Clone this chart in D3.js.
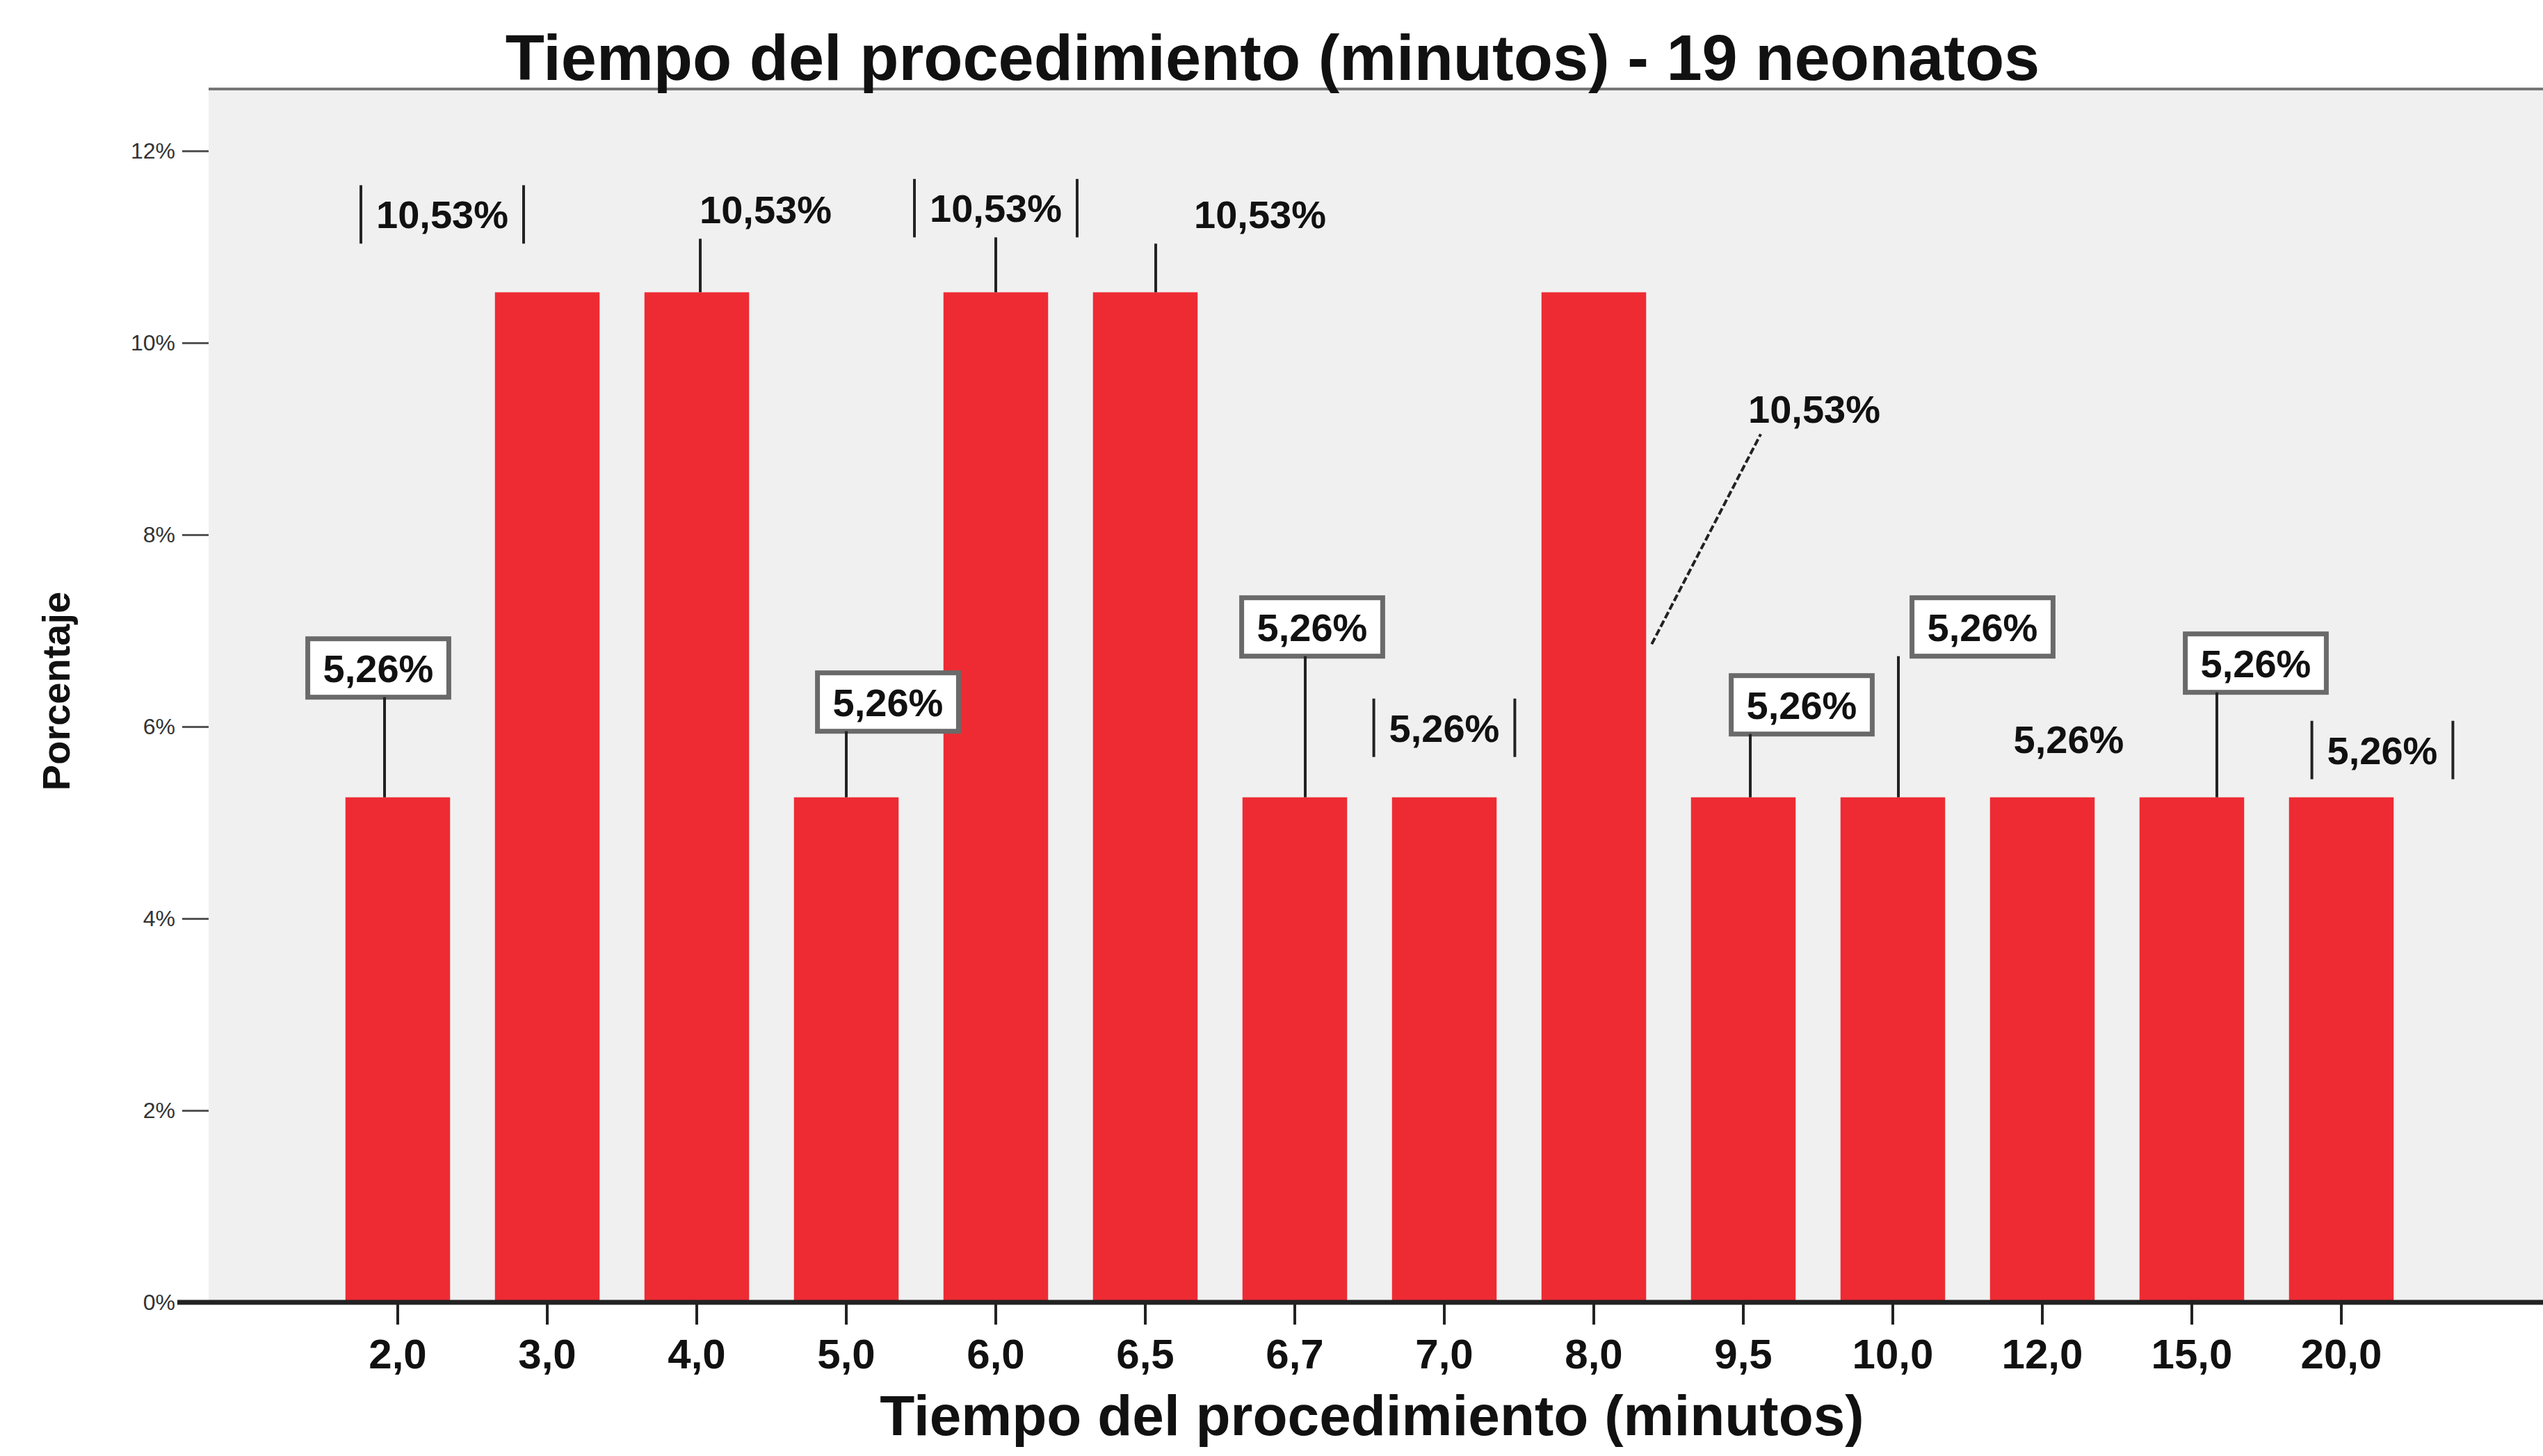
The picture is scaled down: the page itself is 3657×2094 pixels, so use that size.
<!DOCTYPE html>
<html lang="es">
<head>
<meta charset="UTF-8">
<title>Tiempo del procedimiento</title>
<script src="https://cdn.jsdelivr.net/npm/d3@7"></script>
<style>
  html, body { margin: 0; padding: 0; background: #fff; }
  svg { display: block; font-family: "Liberation Sans", Arial, sans-serif; }
  .bar { fill: #ee2b33; }
  .plot-bg { fill: #f0f0f0; }
  .lbl { font-size: 56px; font-weight: bold; fill: #111; }
  .leader { stroke: #222; stroke-width: 4; }
</style>
</head>
<body>
<div id="root"></div>
<script>
// datos: tiempo del procedimiento (minutos), recuento de neonatos
const categorias = ["2,0", "3,0", "4,0", "5,0", "6,0", "6,5", "6,7", "7,0", "8,0", "9,5", "10,0", "12,0", "15,0", "20,0"]
const recuentos = [1, 2, 2, 1, 2, 2, 1, 1, 2, 1, 1, 1, 1, 1]
const yTicks = [0, 2, 4, 6, 8, 10, 12]
const titulo = "Tiempo del procedimiento (minutos) - 19 neonatos"
const tituloX = "Tiempo del procedimiento (minutos)"
const tituloY = "Porcentaje"

// posicion de cada etiqueta respecto a la parte superior de su barra
// [dx, dy, estilo, dx de la linea guia (null = sin linea)]
const labelLayout = [
  [-28, -186, "box", -19], [-151, -112, "bracket", null], [99, -119, "plain", 5],
  [60, -137, "box", 0], [0, -121, "bracket", 0], [165, -112, "plain", 15],
  [25, -245, "box", 15], [0, -100, "bracket", null], [317, 168, "plain", "diag"],
  [84, -133, "box", 10], [129, -245, "box", 8], [38, -84, "plain", null],
  [92, -193, "box", 36], [59, -68, "bracket", null]
]

const total = d3.sum(recuentos)
const porcentajes = recuentos.map(c => c / total * 100)
const fmt = v => d3.format(".2f")(v).replace(".", ",") + "%"

const width = 3657, height = 2094
const plot = { left: 300, top: 128, right: 3657, bottom: 1873 }

const svg = d3.select("#root").append("svg")
  .attr("width", width).attr("height", height)

// fondo del area de grafico
svg.append("rect").attr("class", "plot-bg")
  .attr("x", plot.left).attr("y", plot.top)
  .attr("width", plot.right - plot.left).attr("height", plot.bottom - plot.top)
svg.append("line")
  .attr("x1", plot.left).attr("x2", plot.right)
  .attr("y1", plot.top).attr("y2", plot.top)
  .attr("stroke", "#777").attr("stroke-width", 4)

const xScale = d3.scaleBand().domain(categorias)
  .range([464.5, 3474.5]).paddingInner(0.3).paddingOuter(0.15)
const yScale = d3.scaleLinear().domain([0, 12]).range([plot.bottom, 217])

// eje y
const yAxis = d3.axisLeft(yScale).tickValues(yTicks)
  .tickSize(38).tickPadding(10).tickFormat(d => d + "%")
const gy = svg.append("g").attr("transform", `translate(${plot.left},0)`).call(yAxis)
gy.select(".domain").remove()
gy.selectAll(".tick line").attr("stroke", "#555").attr("stroke-width", 3)
gy.selectAll(".tick text").attr("font-size", 32).attr("fill", "#333")
  .attr("font-family", "Liberation Sans, Arial, sans-serif")

// barras
svg.append("g").selectAll("rect")
  .data(porcentajes).enter().append("rect")
  .attr("class", "bar")
  .attr("x", (d, i) => xScale(categorias[i]))
  .attr("y", d => yScale(d))
  .attr("width", xScale.bandwidth())
  .attr("height", d => plot.bottom - yScale(d))

// eje x
const xAxis = d3.axisBottom(xScale).tickSize(32).tickPadding(20)
const gx = svg.append("g").attr("transform", `translate(0,${plot.bottom})`).call(xAxis)
gx.select(".domain").remove()
gx.selectAll(".tick line").attr("stroke", "#222").attr("stroke-width", 4)
gx.selectAll(".tick text").attr("font-size", 60).attr("font-weight", "bold").attr("fill", "#111")
  .attr("font-family", "Liberation Sans, Arial, sans-serif")
svg.append("line")
  .attr("x1", 255).attr("x2", plot.right)
  .attr("y1", plot.bottom).attr("y2", plot.bottom)
  .attr("stroke", "#222").attr("stroke-width", 7)

// etiquetas de porcentaje
const gl = svg.append("g")
porcentajes.forEach((p, i) => {
  const [dx, dy, estilo, ldx] = labelLayout[i]
  const cxBar = xScale(categorias[i]) + xScale.bandwidth() / 2
  const top = yScale(p)
  const cx = cxBar + dx, cy = top + dy
  const t = gl.append("text").attr("class", "lbl")
    .attr("x", cx).attr("y", cy + 20).attr("text-anchor", "middle").text(fmt(p))
  const w = t.node().getComputedTextLength() + 44, h = 84
  if (estilo === "box") {
    gl.insert("rect", "text").attr("x", cx - w / 2).attr("y", cy - h / 2)
      .attr("width", w).attr("height", h)
      .attr("fill", "#fff").attr("stroke", "#6a6a6a").attr("stroke-width", 7)
  } else if (estilo === "bracket") {
    [-1, 1].forEach(s => gl.append("line").attr("class", "leader")
      .attr("x1", cx + s * w / 2).attr("x2", cx + s * w / 2)
      .attr("y1", cy - h / 2).attr("y2", cy + h / 2))
  }
  if (ldx === "diag") {
    gl.append("line").attr("class", "leader").attr("stroke-dasharray", "10,4")
      .attr("x1", xScale(categorias[i]) + xScale.bandwidth() + 8).attr("y1", top + 506)
      .attr("x2", cx - w / 2 + 40).attr("y2", cy + h / 2 - 6)
  } else if (ldx !== null) {
    gl.append("line").attr("class", "leader")
      .attr("x1", cxBar + ldx).attr("x2", cxBar + ldx)
      .attr("y1", cy + h / 2).attr("y2", top)
  }
})

// titulos
svg.append("text").attr("x", 1830).attr("y", 115)
  .attr("text-anchor", "middle").attr("font-size", 92).attr("font-weight", "bold")
  .attr("fill", "#111").text(titulo)
svg.append("text").attr("x", 1973).attr("y", 2064)
  .attr("text-anchor", "middle").attr("font-size", 82).attr("font-weight", "bold")
  .attr("fill", "#111").text(tituloX)
svg.append("text").attr("transform", "translate(100,994) rotate(-90)")
  .attr("text-anchor", "middle").attr("font-size", 56).attr("font-weight", "bold")
  .attr("fill", "#111").text(tituloY)
</script>
</body>
</html>
